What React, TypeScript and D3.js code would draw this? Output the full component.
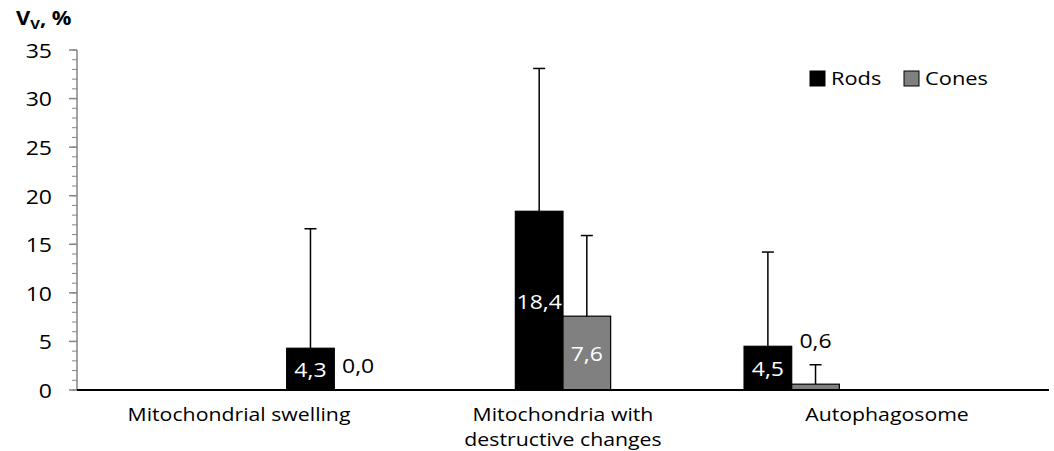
import React from "react";
import * as d3 from "d3";

// category labels (multi-line)
const categories = [["Mitochondrial swelling"], ["Mitochondria with", "destructive changes"], ["Autophagosome"]];
const seriesNames = ["Rods", "Cones"];
const rods = [4.3, 18.4, 4.5];
const cones = [0.0, 7.6, 0.6];
// upper error (SD)
const rodsErr = [12.3, 14.7, 9.7];
const conesErr = [0, 8.3, 2.0];
const yTicks = [0, 5, 10, 15, 20, 25, 30, 35];
const yMinorTicks = d3.range(0, 36, 1);

const W = 1054;
const H = 451;
const FONT = "'Open Sans', sans-serif";
const colors = ["#000000", "#808080"];

const fmt = (v: number) => d3.format(".1f")(v).replace(".", ",");

// stretched text, the source picture is wider than tall
const SText = ({ x, y, anchor = "middle", size = 18, fill = "#000", weight = "normal", children }: any) => (
  <g transform={`translate(${x},${y}) scale(1.15,1)`}>
    <text textAnchor={anchor} fontSize={size} fill={fill} fontWeight={weight} fontFamily={FONT} dominantBaseline="central">
      {children}
    </text>
  </g>
);

export default function App() {
  const left = 77;
  const right = 1049;
  const y = d3.scaleLinear().domain([0, 35]).range([390, 50]);
  const x = d3.scaleBand<number>().domain(d3.range(categories.length)).range([left, right]).padding(0);
  // each category holds 6 slots, rods+cones move two slots left per category
  const slot = d3.scaleBand<number>().domain(d3.range(6)).range([0, x.bandwidth()]).paddingOuter(0.4).paddingInner(0);

  const bars: any[] = [];
  categories.forEach((_, i) => {
    const base = (categories.length - 1 - i) * 2;
    [rods, cones].forEach((arr, s) => {
      const err = s === 0 ? rodsErr[i] : conesErr[i];
      bars.push({ i, s, v: arr[i], err, x0: (x(i) as number) + (slot(base + s) as number) });
    });
  });
  const bw = slot.bandwidth();

  return (
    <svg width={W} height={H} style={{ position: "absolute", left: 0, top: 0, background: "#fff" }}>
      {/* y axis */}
      <line x1={left} x2={left} y1={y(35)} y2={y(0)} stroke="#868686" strokeWidth={1.5} />
      {yMinorTicks.map((t) => (
        <line key={"m" + t} x1={left - 5} x2={left} y1={y(t)} y2={y(t)} stroke="#868686" strokeWidth={1} />
      ))}
      {yTicks.map((t) => (
        <g key={t}>
          <line x1={left - 8} x2={left} y1={y(t)} y2={y(t)} stroke="#868686" strokeWidth={1.5} />
          <SText x={52} y={y(t)} anchor="end" size={20}>{t}</SText>
        </g>
      ))}
      {/* y title */}
      <g transform="translate(16,18) scale(1.15,1)">
        <text fontFamily={FONT} fontWeight="bold" fontSize={19} dominantBaseline="central">
          V<tspan fontSize={13} dy={5}>V</tspan><tspan dy={-5}>, %</tspan>
        </text>
      </g>

      {/* bars */}
      {bars.map((b, k) => (
        <rect key={k} x={b.x0} y={y(b.v)} width={bw} height={y(0) - y(b.v)} fill={colors[b.s]} stroke="#000" strokeWidth={1.2} />
      ))}
      {/* error bars */}
      {bars.filter((b) => b.err > 0).map((b, k) => (
        <g key={"e" + k} stroke="#000" strokeWidth={1.5}>
          <line x1={b.x0 + bw / 2} x2={b.x0 + bw / 2} y1={y(b.v)} y2={y(b.v + b.err)} />
          <line x1={b.x0 + bw / 2 - 6} x2={b.x0 + bw / 2 + 6} y1={y(b.v + b.err)} y2={y(b.v + b.err)} />
        </g>
      ))}
      {/* x axis */}
      <line x1={left} x2={right} y1={y(0)} y2={y(0)} stroke="#000" strokeWidth={1.8} />

      {/* data labels */}
      {bars.map((b, k) => {
        const inside = y(0) - y(b.v) > 24;
        const ly = inside ? (y(0) + y(b.v)) / 2 : y(b.v + b.err) - 25;
        return (
          <SText key={"l" + k} x={b.x0 + bw / 2} y={ly} size={20} fill={inside ? "#fff" : "#000"}>
            {fmt(b.v)}
          </SText>
        );
      })}

      {/* category labels */}
      {categories.map((lines, i) => (
        <g key={"c" + i}>
          {lines.map((ln, j) => (
            <SText key={j} x={(x(i) as number) + x.bandwidth() / 2} y={414 + j * 25.5} size={18.5}>
              {ln}
            </SText>
          ))}
        </g>
      ))}

      {/* legend */}
      {seriesNames.map((n, s) => {
        const lx = 810 + s * 94;
        return (
          <g key={n}>
            <rect x={lx} y={71} width={15} height={15} fill={colors[s]} stroke="#000" strokeWidth={1} />
            <SText x={lx + 21} y={78} anchor="start" size={19}>{n}</SText>
          </g>
        );
      })}
    </svg>
  );
}
